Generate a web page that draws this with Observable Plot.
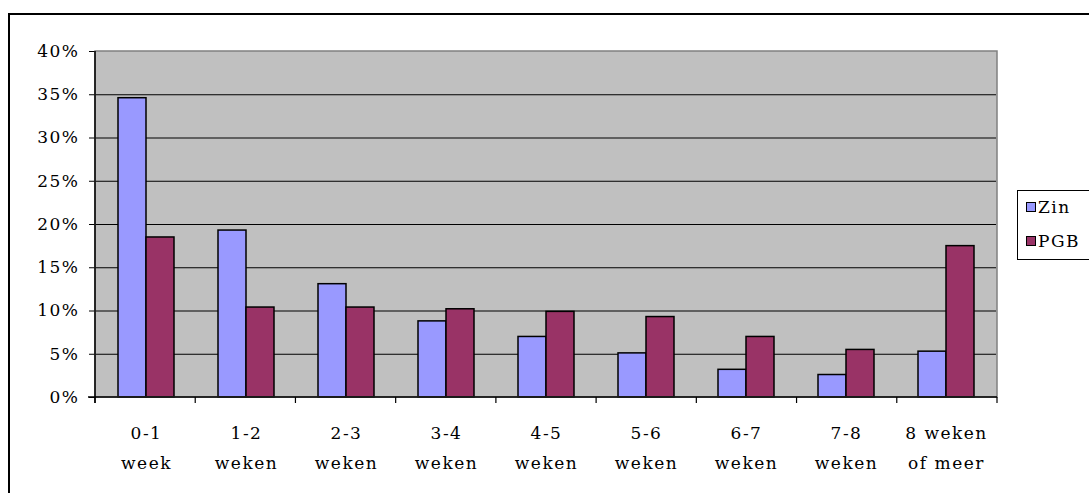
<!DOCTYPE html>
<html>
<head>
<meta charset="utf-8">
<script src="https://cdn.jsdelivr.net/npm/d3@7"></script>
<script src="https://cdn.jsdelivr.net/npm/@observablehq/plot@0.6"></script>
<style>
html, body { margin: 0; padding: 0; background: #fff; overflow: hidden; width: 1089px; height: 493px; }
#wrap { position: relative; width: 1089px; height: 493px; overflow: hidden; }
#border { position: absolute; left: 8px; top: 13px; width: 1200px; height: 600px; border: 2px solid #000; box-sizing: border-box; }
#chart { position: absolute; left: 0; top: 0; }
#legend { position: absolute; left: 1017px; top: 190px; width: 120px; height: 68px; border: 1px solid #000; background: #fff;
  font-family: "DejaVu Serif", serif; font-size: 17px; letter-spacing: 1.5px; color: #000; }
#legend .item { position: absolute; left: 8px; display: flex; align-items: center; white-space: nowrap; }
#legend .sw { width: 8px; height: 8px; border: 1px solid #000; margin-right: 2px; }
</style>
</head>
<body>
<div id="wrap">
  <div id="border"></div>
  <div id="chart"></div>
  <div id="legend"></div>
</div>
<script>
// ---- data ----
const categories = ["0-1\nweek", "1-2\nweken", "2-3\nweken", "3-4\nweken", "4-5\nweken", "5-6\nweken", "6-7\nweken", "7-8\nweken", "8 weken\nof meer"];
const series = ["Zin", "PGB"];
const zinValues = [34.6, 19.3, 13.1, 8.8, 7.0, 5.1, 3.2, 2.6, 5.3];
const pgbValues = [18.5, 10.4, 10.4, 10.2, 9.9, 9.3, 7.0, 5.5, 17.5];
const yTicks = [0, 5, 10, 15, 20, 25, 30, 35, 40];
const colors = ["#9999FF", "#993366"];

const data = [];
categories.forEach((c, i) => {
  data.push({cat: c, series: "Zin", value: zinValues[i]});
  data.push({cat: c, series: "PGB", value: pgbValues[i]});
});

const font = "DejaVu Serif, serif";

const chart = Plot.plot({
  width: 1089,
  height: 493,
  marginLeft: 95,
  marginRight: 92,
  marginTop: 51,
  marginBottom: 96,
  style: {fontFamily: font, fontSize: "17px", letterSpacing: "1.5px", color: "#000", background: "transparent", overflow: "visible"},
  fx: {domain: categories, paddingInner: 0, paddingOuter: 0, label: null, axis: null},
  x: {domain: series, paddingInner: 0, paddingOuter: 0.746, axis: null},
  y: {domain: [0, 40], ticks: yTicks, label: null, axis: null},
  color: {domain: series, range: colors},
  marks: [
    Plot.ruleY(yTicks.filter(d => d > 0 && d < 40), {stroke: "#000", strokeWidth: 1}),
    Plot.barY(data, {fx: "cat", x: "series", y: "value", fill: "series", stroke: "#000", strokeWidth: 1.5}),
    Plot.axisY({ticks: yTicks, tickFormat: d => d + "%", label: null, tickSize: 7, tickPadding: 10, stroke: "#000", strokeOpacity: 1, fontSize: 17}),
    Plot.axisFx({anchor: "bottom", label: null, tickSize: 0, tickPadding: 20, lineHeight: 1.78, fontSize: 17})
  ]
});
document.getElementById("chart").appendChild(chart);

// background, axis lines, plot border and category-boundary ticks, positioned from the chart's own scales
const fxs = chart.scale("fx");
const ys = chart.scale("y");
const band = d3.scaleBand().domain(fxs.domain).range(fxs.range).paddingInner(0).paddingOuter(0);
const svg = d3.select(chart);
const x0 = fxs.range[0], x1 = fxs.range[1];
const yBottom = ys.range[0], yTop = ys.range[1];
svg.insert("rect", ":first-child").attr("x", x0).attr("y", yTop).attr("width", x1 - x0).attr("height", yBottom - yTop)
  .attr("fill", "#C0C0C0");
const g = svg.append("g");
g.append("rect").attr("x", x0).attr("y", yTop).attr("width", x1 - x0).attr("height", yBottom - yTop)
  .attr("fill", "none").attr("stroke", "#808080").attr("stroke-width", 1.5);
g.append("line").attr("x1", x0).attr("x2", x0).attr("y1", yTop).attr("y2", yBottom + 6).attr("stroke", "#000").attr("stroke-width", 1.5);
g.append("line").attr("x1", x0 - 7).attr("x2", x1).attr("y1", yBottom).attr("y2", yBottom).attr("stroke", "#000").attr("stroke-width", 1.5);
const bounds = fxs.domain.map(d => band(d)).concat([x1]);
bounds.forEach(b => {
  g.append("line").attr("x1", b).attr("x2", b).attr("y1", yBottom).attr("y2", yBottom + 6).attr("stroke", "#000").attr("stroke-width", 1.2);
});

// legend
const legend = document.getElementById("legend");
series.forEach((s, i) => {
  const item = document.createElement("div");
  item.className = "item";
  item.style.top = (6 + i * 34) + "px";
  const sw = document.createElement("div");
  sw.className = "sw";
  sw.style.background = colors[i];
  const t = document.createElement("span");
  t.textContent = s;
  item.appendChild(sw);
  item.appendChild(t);
  legend.appendChild(item);
});
</script>
</body>
</html>
